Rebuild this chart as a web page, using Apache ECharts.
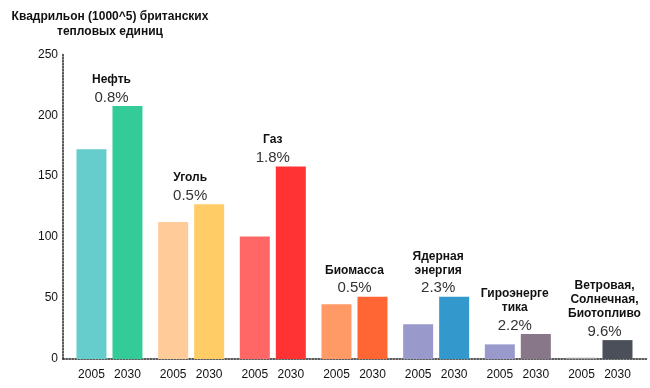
<!DOCTYPE html>
<html><head><meta charset="utf-8">
<script src="https://cdn.jsdelivr.net/npm/echarts@6/dist/echarts.min.js"></script>
<style>html,body{margin:0;padding:0;background:#fff}#c{width:650px;height:388px}</style>
</head><body><div id="c"></div>
<script>
var categories = ['Нефть','Уголь','Газ','Биомасса','Ядерная\nэнергия','Гироэнерге\nтика','Ветровая,\nСолнечная,\nБиотопливо'];
var growth = ['0.8%','0.5%','1.8%','0.5%','2.3%','2.2%','9.6%'];
var years = ['2005','2030'];
var values2005 = [172, 112.5, 100.5, 45, 28.5, 12, 1];
var values2030 = [207.5, 127, 158, 51, 51, 20.5, 15.5];
var yTicks = [0, 50, 100, 150, 200, 250];

var colors2005 = ['#66CCCC','#FFCC99','#FF6666','#FF9966','#9999CC','#9999CC','#9A9A9A'];
var colors2030 = ['#33CC99','#FFCC66','#FF3333','#FF6633','#3399CC','#887788','#4B4F5A'];
var labelNudgeX = [2, -1, 0, 0, 2, -3, 5];
var FONT = '"Liberation Sans", Arial, sans-serif';

function barData(vals, cols){
  return vals.map(function(v,i){ return {value:[i, v], itemStyle:{color:cols[i]}}; });
}
function groupLabel(i){
  return categories[i].split('\n').map(function(s){return '{n|'+s+'}';}).join('\n') + '\n{p|'+growth[i]+'}';
}

var chart = echarts.init(document.getElementById('c'), null, {renderer:'canvas'});
chart.setOption({
  animation:false,
  textStyle:{fontFamily:FONT},
  graphic:[{
    type:'text', x:110, y:9,
    style:{text:'Квадрильон (1000^5) британских\nтепловых единиц', textAlign:'center',
      font:'bold 12px '+FONT, lineHeight:15, fill:'#111'}
  }],
  grid:{left:63, right:2, top:54.3, bottom:29, containLabel:false},
  xAxis:{
    type:'value', min:-0.569, max:6.594,
    axisLine:{show:true, onZero:true, lineStyle:{color:'#222', width:1.5, type:[1.5,1.5]}},
    axisTick:{show:false}, axisLabel:{show:false}, splitLine:{show:false}
  },
  yAxis:{
    type:'value', min:yTicks[0], max:yTicks[yTicks.length-1], interval:50,
    axisLine:{show:true, onZero:false, lineStyle:{color:'#222', width:1.5, type:[1.5,1.5]}},
    axisTick:{show:false}, splitLine:{show:false},
    axisLabel:{color:'#111', fontSize:12, margin:5, fontFamily:FONT}
  },
  series:[
    {
      name:years[0], type:'bar', barWidth:30, barGap:'20%',
      data:barData(values2005, colors2005),
      label:{show:true, position:'bottom', distance:10, formatter:years[0], color:'#111', fontSize:12, fontFamily:FONT}
    },
    {
      name:years[1], type:'bar', barWidth:30, barGap:'20%',
      data:barData(values2030, colors2030),
      label:{show:true, position:'bottom', distance:10, formatter:years[1], color:'#111', fontSize:12, fontFamily:FONT},
      markPoint:{
        symbol:'rect', symbolSize:1, silent:true,
        itemStyle:{color:'rgba(0,0,0,0)'},
        label:{show:true, position:'top', distance:-3, align:'center',
          formatter:function(p){ return groupLabel(p.dataIndex); },
          rich:{
            n:{fontSize:12, fontWeight:'bold', color:'#111', lineHeight:14, fontFamily:FONT, align:'center'},
            p:{fontSize:15, color:'#333', lineHeight:22, fontFamily:FONT, align:'center'}
          }
        },
        data:categories.map(function(c,i){
          return {coord:[i, values2030[i]], label:{offset:[-18 + labelNudgeX[i], 0]}};
        })
      }
    }
  ]
});
</script></body></html>
